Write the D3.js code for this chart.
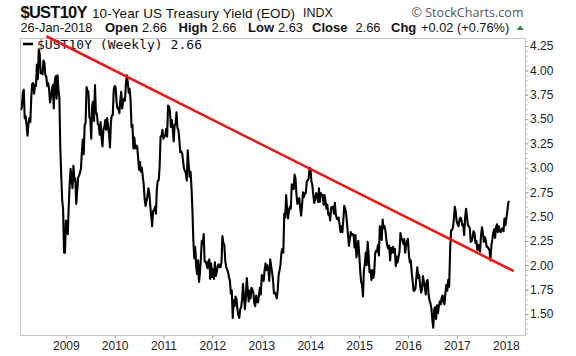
<!DOCTYPE html>
<html><head><meta charset="utf-8">
<script src="https://cdn.jsdelivr.net/npm/d3@7"></script>
<style>body{margin:0;background:#fff}svg{display:block;font-family:"Liberation Sans",Arial,sans-serif}</style>
</head><body><svg id="c" width="576" height="356"></svg>
<script>
// Weekly closes (Fridays), first week 2008-02-01, last week 2018-01-26
const firstWeek = "2008-02-01";
const y2008 = [3.59,3.63,3.77,3.80,3.51, 3.53,3.44,3.33,3.45, 3.51,3.47,3.72,3.86, 3.87,3.76,3.85,3.84,4.06, 3.91,4.21,4.17,3.97, 3.98,3.96,4.10,4.08, 3.95,3.94,3.84,3.87,3.81, 3.67,3.72,3.80,3.85, 3.61,3.88,3.94,3.71,3.95, 3.80,3.72,3.20,2.92, 2.67,2.57,2.13,2.13];
const y2009 = [2.46,2.40,2.32,2.61,2.84, 2.99,2.89,2.79,3.02, 2.87,2.89,2.63,2.76, 2.90,2.92,2.95,2.99, 3.16,3.29,3.14,3.44,3.46, 3.83,3.79,3.78,3.52, 3.50,3.30,3.64,3.68,3.48, 3.85,3.56,3.56,3.45, 3.44,3.34,3.47,3.31, 3.22,3.39,3.42,3.49,3.39, 3.51,3.43,3.35,3.21, 3.47,3.54,3.54,3.80];
const y2010 = [3.84,3.83,3.68,3.61,3.61, 3.56,3.69,3.78,3.61, 3.68,3.71,3.69,3.86, 3.95,3.88,3.77,3.81,3.69, 3.42,3.44,3.20,3.31, 3.20,3.23,3.22,3.11, 2.98,3.06,2.96,3.00,2.91, 2.83,2.68,2.61,2.66, 2.71,2.79,2.74,2.61, 2.51,2.40,2.56,2.56,2.60, 2.53,2.78,2.87,2.87, 3.01,3.32,3.33,3.39,3.30];
const y2011 = [3.32,3.33,3.40,3.32, 3.64,3.63,3.58,3.42, 3.49,3.40,3.27,3.44, 3.45,3.57,3.41,3.39,3.29, 3.16,3.17,3.15,3.07, 2.99,2.97,2.94,2.87, 3.18,3.03,2.91,2.96,2.80, 2.56,2.25,2.07,2.19, 1.99,1.91,2.05,1.83,1.92, 2.07,2.25,2.22,2.32, 2.04,2.04,2.01,1.97, 2.04,2.06,1.86,2.02,1.88];
const y2012 = [1.96,1.86,2.03,1.89, 1.93,1.99,2.01,1.98, 1.98,2.03,2.30,2.23,2.21, 2.05,1.98,1.96,1.93, 1.88,1.84,1.71,1.74, 1.46,1.64,1.58,1.68,1.65, 1.55,1.49,1.46,1.55, 1.57,1.65,1.81,1.68,1.55, 1.67,1.87,1.75,1.63, 1.74,1.66,1.77,1.75, 1.72,1.61,1.58,1.69,1.62, 1.62,1.70,1.77,1.70];
const y2013 = [1.90,1.87,1.84,1.95, 2.02,1.95,2.00,1.96, 1.84,2.06,1.99,1.93,1.85, 1.71,1.72,1.70,1.66, 1.74,1.90,1.95,2.01,2.13, 2.17,2.13,2.53,2.49, 2.72,2.58,2.48,2.56, 2.60,2.58,2.83,2.81,2.78, 2.93,2.89,2.73,2.63, 2.65,2.69,2.59,2.51, 2.62,2.75,2.70,2.74,2.74, 2.86,2.87,2.89,3.00];
const y2014 = [2.99,2.86,2.82,2.72,2.64, 2.68,2.74,2.73,2.65, 2.79,2.65,2.74,2.72, 2.72,2.62,2.72,2.66, 2.58,2.62,2.52,2.53,2.46, 2.59,2.60,2.60,2.53, 2.64,2.52,2.48,2.47, 2.49,2.42,2.34,2.40,2.34, 2.46,2.61,2.58,2.53, 2.43,2.31,2.20,2.27,2.34, 2.31,2.32,2.31,2.18, 2.31,2.08,2.17,2.25];
const y2015 = [2.11,1.95,1.83,1.80,1.68, 1.95,2.02,2.13,2.00, 2.24,2.11,1.93,1.95, 1.85,1.95,1.87,1.92, 2.12,2.15,2.14,2.21,2.10, 2.40,2.39,2.26,2.47, 2.38,2.40,2.35,2.26,2.20, 2.17,2.20,2.05,2.18, 2.13,2.19,2.13,2.17, 1.99,2.09,2.03,2.09,2.14, 2.33,2.28,2.26,2.22, 2.27,2.13,2.20,2.25];
const y2016 = [2.27,2.11,2.03,2.05,1.93, 1.84,1.74,1.74,1.76, 1.88,1.98,1.87,1.90, 1.79,1.72,1.75,1.89,1.83, 1.78,1.70,1.84,1.85, 1.70,1.64,1.61,1.56, 1.44,1.36,1.55,1.57,1.45, 1.59,1.51,1.58,1.63, 1.60,1.67,1.69,1.62,1.60, 1.72,1.80,1.74,1.85, 1.78,2.15,2.36,2.36, 2.39,2.47,2.60,2.55,2.45];
const y2017 = [2.42,2.40,2.47,2.49, 2.47,2.41,2.42,2.31, 2.49,2.58,2.50,2.41,2.40, 2.38,2.24,2.25,2.29, 2.35,2.33,2.23,2.25, 2.16,2.21,2.16,2.14,2.31, 2.39,2.33,2.24,2.29, 2.26,2.19,2.19,2.17, 2.16,2.05,2.20,2.26,2.33, 2.37,2.28,2.39,2.42, 2.34,2.40,2.35,2.34, 2.37,2.38,2.35,2.48,2.41];
const y2018 = [2.48,2.55,2.64,2.66];

const yTicks = [1.50,1.75,2.00,2.25,2.50,2.75,3.00,3.25,3.50,3.75,4.00,4.25];
const xYears = [2009,2010,2011,2012,2013,2014,2015,2016,2017,2018];
const trendDates = ["2008-08-09","2018-03-01"];
const trendValues = [4.35,1.94];

const values = [].concat(y2008,y2009,y2010,y2011,y2012,y2013,y2014,y2015,y2016,y2017,y2018);
const t0 = d3.utcParse("%Y-%m-%d")(firstWeek);
const data = values.map((v,i)=>({date:d3.utcDay.offset(t0,7*i), value:v}));
const trend = trendDates.map((d,i)=>({date:d3.utcParse("%Y-%m-%d")(d), value:trendValues[i]}));

const L=20.5,R=525.5,T=38.5,B=335.5;
const svg = d3.select("#c");
const x = d3.scaleUtc().domain([new Date(Date.UTC(2009,0,1)),new Date(Date.UTC(2018,0,1))]).range([65.8,505.8]);
const y = d3.scaleLinear().domain([1.5,4.25]).range([314,46]);

svg.append("defs").append("clipPath").attr("id","clip").append("rect")
  .attr("x",L).attr("y",T).attr("width",R-L).attr("height",B-T);

// frame
svg.append("rect").attr("x",L).attr("y",T).attr("width",R-L).attr("height",B-T)
  .attr("fill","none").attr("stroke","#c6c6c6").attr("stroke-width",1);

// right axis minor ticks
const minor = d3.range(130,434,5).map(d=>d/100);
const gMin = svg.append("g").attr("transform",`translate(${R},0)`)
  .call(d3.axisRight(y).tickValues(minor).tickSize(2).tickFormat(""));
gMin.select(".domain").remove();
gMin.selectAll("line").attr("stroke","#b0b0b0");

const gy = svg.append("g").attr("transform",`translate(${R},0)`)
  .call(d3.axisRight(y).tickValues(yTicks).tickSize(3).tickPadding(1.5).tickFormat(d3.format(".2f")));
gy.select(".domain").remove();
gy.selectAll("line").attr("stroke","#999");
gy.selectAll("text").attr("font-size",12).attr("fill","#222").attr("font-family","Liberation Sans, Arial, sans-serif");

const gx = svg.append("g").attr("transform",`translate(0,${B})`)
  .call(d3.axisBottom(x).tickValues(xYears.map(yy=>new Date(Date.UTC(yy,0,1)))).tickSize(3).tickPadding(2.5).tickFormat(d3.utcFormat("%Y")));
gx.select(".domain").remove();
gx.selectAll("line").attr("stroke","#999");
gx.selectAll("text").attr("font-size",12).attr("fill","#222").attr("font-family","Liberation Sans, Arial, sans-serif");

// price line
svg.append("path").datum(data).attr("clip-path","url(#clip)")
  .attr("fill","none").attr("stroke","#000").attr("stroke-width",2.1).attr("stroke-linejoin","round")
  .attr("d",d3.line().x(d=>x(d.date)).y(d=>y(d.value)));

// legend
svg.append("line").attr("x1",23).attr("x2",33).attr("y1",44).attr("y2",44).attr("stroke","#000").attr("stroke-width",2.5);
svg.append("text").attr("x",37).attr("y",48.5).attr("font-family","DejaVu Sans Mono, monospace").attr("font-size",11.5)
  .attr("textLength",165).attr("lengthAdjust","spacingAndGlyphs").attr("fill","#111").text("$UST10Y (Weekly) 2.66");

// trend line
svg.append("path").datum(trend).attr("fill","none").attr("stroke","#e41a1c").attr("stroke-width",2.6)
  .attr("d",d3.line().x(d=>x(d.date)).y(d=>y(d.value)));

// header
const h = svg.append("g").attr("fill","#111");
h.append("text").attr("x",20.5).attr("y",18).attr("font-weight","bold").attr("font-size",16.5).attr("textLength",67).text("$UST10Y");
h.append("text").attr("x",92).attr("y",17.5).attr("font-size",13.5).attr("textLength",203).text("10-Year US Treasury Yield (EOD)");
h.append("text").attr("x",303).attr("y",17).attr("font-size",12.5).text("INDX");
h.append("text").attr("x",411.5).attr("y",16.5).attr("font-size",12.5).attr("fill","#555").attr("font-family","Open Sans, sans-serif")
  .attr("textLength",112).text("\u00A9 StockCharts.com");
const line2 = [
  {t:"26-Jan-2018",x:20.5,b:false},{t:"Open",x:105,b:true},{t:"2.66",x:142,b:false},
  {t:"High",x:178.5,b:true},{t:"2.66",x:211.5,b:false},{t:"Low",x:248,b:true},{t:"2.63",x:278,b:false},
  {t:"Close",x:312,b:true},{t:"2.66",x:355.5,b:false},{t:"Chg",x:391,b:true},{t:"+0.02 (+0.76%)",x:421,b:false}
];
h.selectAll(".l2").data(line2).join("text").attr("x",d=>d.x).attr("y",32)
  .attr("font-size",d=>d.b?13:12.8).attr("font-weight",d=>d.b?"bold":"normal").text(d=>d.t);
h.append("path").attr("d","M516.5,30L524,30L520.25,25.5Z").attr("fill","#2e8b3a");
</script></body></html>
